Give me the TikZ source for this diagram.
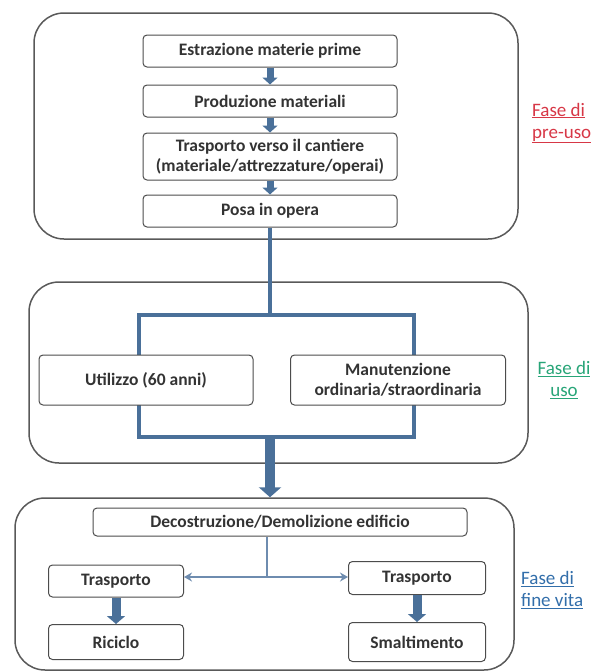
\documentclass[tikz,border=0pt]{standalone}
\usepackage{fontspec}
\setmainfont{Carlito}
\usetikzlibrary{arrows.meta}
\definecolor{flowblue}{RGB}{74,112,153}
\definecolor{thinblue}{RGB}{110,140,175}
\definecolor{prered}{RGB}{215,55,70}
\definecolor{usegreen}{RGB}{40,165,120}
\definecolor{endblue}{RGB}{50,110,170}
\begin{document}
\begin{tikzpicture}[x=1pt,y=-1pt]
        \tikzstyle{phase}=[rectangle,draw=black!65,line width=1.5pt,rounded corners=30pt]
        \tikzstyle{stage}=[rectangle,draw=black!70,line width=1pt,rounded corners=4pt,fill=white,align=center,inner sep=2pt,text=black!80,font=\fontsize{17.5}{20}\selectfont\bfseries]
        \tikzstyle{flow}=[draw=flowblue,line width=7pt,-{Triangle[width=15pt,length=7pt]}]
        \tikzstyle{wideflow}=[draw=flowblue,line width=9pt,-{Triangle[width=18pt,length=8pt]}]
        \tikzstyle{bigflow}=[draw=flowblue,line width=10pt,-{Triangle[width=22pt,length=10pt]}]
        \tikzstyle{link}=[draw=flowblue,line width=4pt]
        \tikzstyle{phaselabel}=[inner sep=0pt,font=\fontsize{19}{22}\selectfont]

        \useasboundingbox (0,0) rectangle (590,672);

        % fase di pre-uso
        \node [phase,minimum width=484pt,minimum height=226pt] (pre) at (276,126) {};
        \node [stage,minimum width=254pt,minimum height=32pt] (p1) at (270,51) {Estrazione materie prime};
        \node [stage,minimum width=254pt,minimum height=32pt] (p2) at (270,101) {Produzione materiali};
        \node [stage,minimum width=254pt,minimum height=47pt] (p3) at (270,156.5) {Trasporto verso il cantiere\\(materiale/attrezzature/operai)};
        \node [stage,minimum width=254pt,minimum height=32pt] (p4) at (270,211) {Posa in opera};
        \draw[flow] (p1) -- (p2);
        \draw[flow] (p2) -- (p3);
        \draw[flow] (p3) -- (p4);

        % fase di uso
        \node [phase,minimum width=499pt,minimum height=181pt] (use) at (278.5,372.5) {};
        \coordinate (bl) at (139,315);
        \coordinate (br) at (414,437);
        \draw[link] (bl) rectangle (br);
        \draw[link] (p4.south) -- (p4.south |- bl);
        \node [stage,minimum width=214pt,minimum height=50pt] (u1) at (146,380) {Utilizzo (60 anni)};
        \node [stage,minimum width=215pt,minimum height=50pt] (u2) at (398,380) {Manutenzione\\ordinaria/straordinaria};

        % fase di fine vita
        \node [phase,minimum width=499pt,minimum height=172pt] (end) at (264.5,584) {};
        \draw[bigflow] (p4.south |- br) -- (p4.south |- end.north);
        \node [stage,minimum width=374pt,minimum height=28pt] (f0) at (280,522) {Decostruzione/Demolizione edificio};
        \node [stage,minimum width=135pt,minimum height=32pt] (f1) at (116,581) {Trasporto};
        \node [stage,minimum width=135pt,minimum height=35pt] (f2) at (116,642) {Riciclo};
        \node [stage,minimum width=137pt,minimum height=33pt] (f3) at (417,578) {Trasporto};
        \node [stage,minimum width=137pt,minimum height=39pt] (f4) at (417,642) {Smaltimento};
        \coordinate (split) at (267,577);
        \draw[draw=thinblue,line width=2pt] (f0.south -| split) -- (split);
        \draw[draw=thinblue,line width=2pt,-{Stealth[length=8pt,width=9pt]}] (split) -- (f1.east |- split);
        \draw[draw=thinblue,line width=2pt,-{Stealth[length=8pt,width=9pt]}] (split) -- (f3.west |- split);
        \draw[wideflow] (f1) -- (f2);
        \draw[wideflow] (f3) -- (f4);

        % etichette
        \node [phaselabel,text=prered,anchor=west,align=left] (lpre) at (532,123) {\underline{Fase di}\\\underline{pre-uso}};
        \node [phaselabel,text=usegreen,align=center] (luse) at (564,380) {\underline{Fase di}\\\underline{uso}};
        \node [phaselabel,text=endblue,anchor=west,align=left] (lend) at (521,590) {\underline{Fase di}\\\underline{fine vita}};
\end{tikzpicture}
\end{document}
